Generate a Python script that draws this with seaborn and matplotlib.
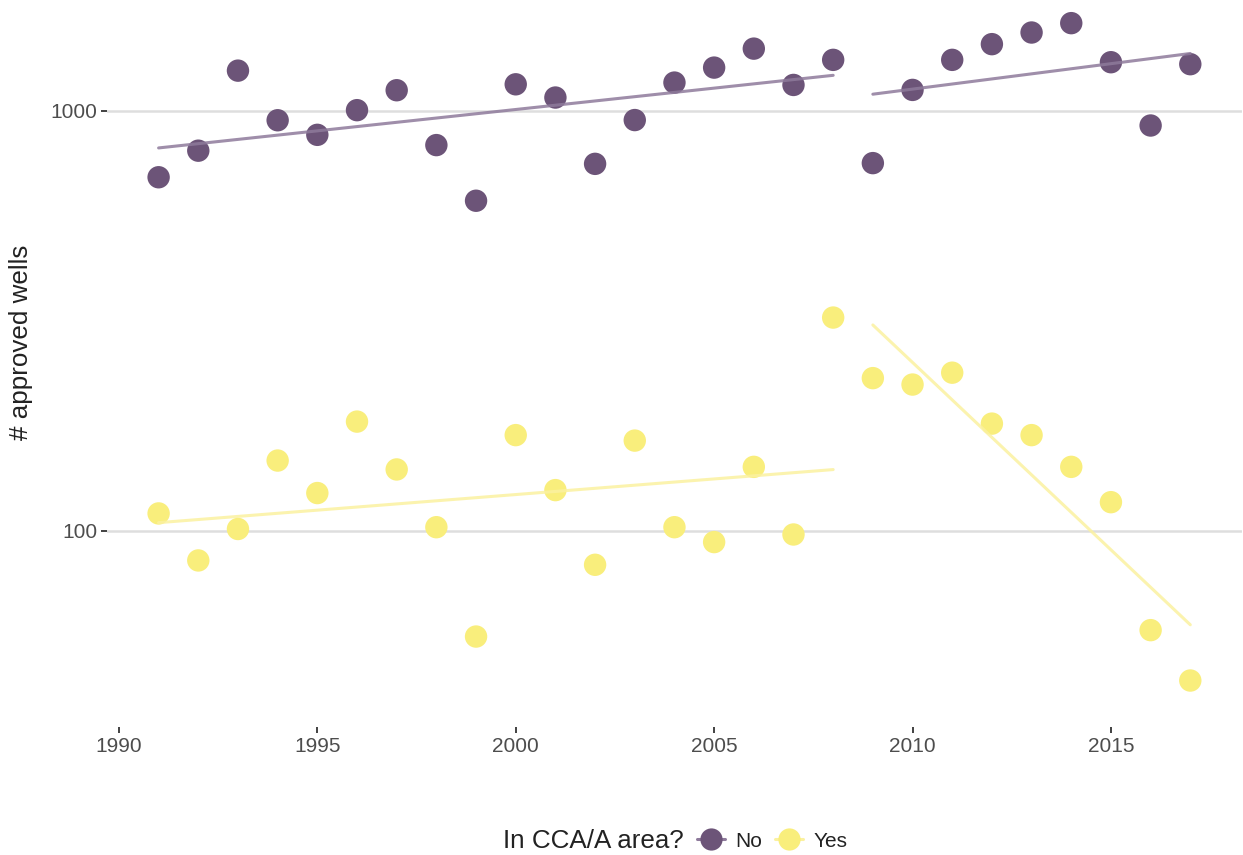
import matplotlib
matplotlib.use("Agg")
import matplotlib.pyplot as plt
from matplotlib.lines import Line2D
import numpy as np
import pandas as pd
import seaborn as sns

years = list(range(1991, 2018))
wells_no = [695, 804, 1247, 950, 877, 1004, 1120, 829, 611, 1157,
            1076, 748, 951, 1168, 1268, 1407, 1153, 1323, 751, 1122,
            1323, 1442, 1537, 1618, 1306, 923, 1292]
wells_yes = [110, 85, 101, 147, 123, 182, 140, 102, 56, 169,
             125, 83, 164, 102, 94, 142, 98, 322, 231, 223,
             238, 180, 169, 142, 117, 58, 44]
groups = ["No", "Yes"]
break_year = 2008  # trends fitted separately before / after

point_colors = {"No": "#6c5478", "Yes": "#f9ee7c"}
line_colors = {"No": "#8e7a9b", "Yes": "#fbf1a0"}

df = pd.DataFrame({
    "year": years * 2,
    "wells": wells_no + wells_yes,
    "area": ["No"] * len(years) + ["Yes"] * len(years),
})
df["period"] = np.where(df["year"] <= break_year, "early", "late")

sns.set_theme(style="white")
plt.rcParams["font.family"] = ["Liberation Sans", "DejaVu Sans"]

fig = plt.figure(figsize=(12.43, 8.55), dpi=100)
ax = fig.add_axes([0.0861, 0.1497, 0.913, 0.8503])

sns.scatterplot(data=df, x="year", y="wells", hue="area", palette=point_colors,
                s=260, linewidth=0, legend=False, ax=ax, zorder=3)

# log-linear trend per group and period
for (area, period), sub in df.groupby(["area", "period"]):
    k, b = np.polyfit(sub["year"], np.log10(sub["wells"]), 1)
    fit = pd.DataFrame({"year": sub["year"], "fit": 10 ** (k * sub["year"] + b)})
    sns.lineplot(data=fit, x="year", y="fit", color=line_colors[area],
                 linewidth=2.2, alpha=0.85, ax=ax, zorder=4)

ax.set_yscale("log")
ax.set_ylim(34.1, 1837)
ax.set_xlim(1989.7, 2018.3)
ax.set_yticks([100, 1000])
ax.set_yticklabels(["100", "1000"])
ax.minorticks_off()
ax.set_xticks([1990, 1995, 2000, 2005, 2010, 2015])

ax.grid(axis="y", color="#dedede", linewidth=1.8)
ax.grid(axis="x", visible=False)
for s in ax.spines.values():
    s.set_visible(False)
ax.tick_params(axis="both", length=4, width=1.3, color="#333333",
               labelsize=15, labelcolor="#4d4d4d", pad=3, left=True, bottom=True)
ax.set_xlabel("")
ax.set_ylabel("# approved wells", fontsize=18.75, color="#222222", va="center")
ax.yaxis.set_label_coords((21 - 107) / 1135, (727 - 342) / 727)

fig.text(503 / 1243, 14 / 855, "In CCA/A area?", fontsize=18.75, color="#222222",
         va="center", ha="left")
handles = [Line2D([0], [0], color=line_colors[g], linewidth=2.2, marker="o",
                  markersize=16, markerfacecolor=point_colors[g],
                  markeredgewidth=0) for g in groups]
fig.legend(handles, groups, loc="center left", bbox_to_anchor=(697 / 1243, 14 / 855),
           ncol=2, frameon=False, fontsize=15, handlelength=1.35, handletextpad=0.5,
           columnspacing=0.6, borderaxespad=0, borderpad=0,
           labelcolor="#222222")

fig.savefig("out.png", dpi=100)
